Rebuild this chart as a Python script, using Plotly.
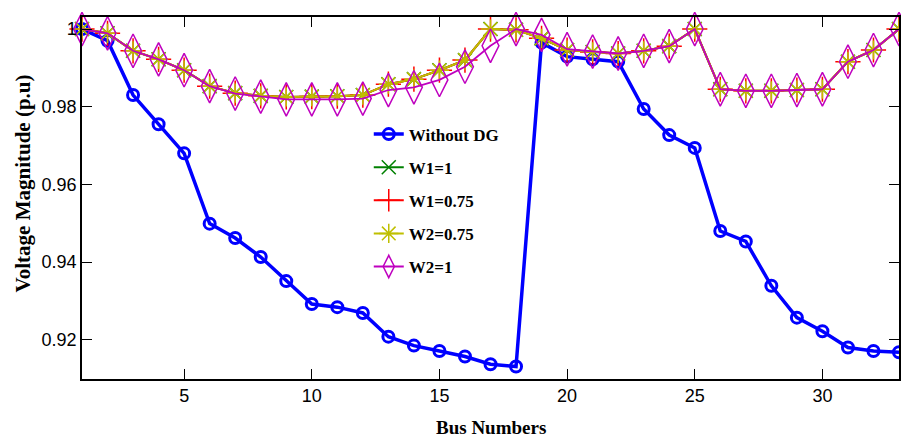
import plotly.graph_objects as go

bus = list(range(1, 34))

without_dg = [1.0, 0.997, 0.983, 0.9755, 0.968, 0.9499, 0.9462, 0.9413, 0.9351, 0.9292,
              0.9284, 0.9269, 0.9208, 0.9185, 0.9171, 0.9157, 0.9137, 0.9131, 0.9965, 0.9929,
              0.9922, 0.9916, 0.9794, 0.9727, 0.9694, 0.9480, 0.9453, 0.9339, 0.9257, 0.9222,
              0.9180, 0.9171, 0.9168]

w1_1 = [1.0, 0.9989, 0.9944, 0.9922, 0.9894, 0.9853, 0.9835, 0.9828, 0.9825, 0.9826,
        0.9827, 0.9830, 0.9858, 0.9871, 0.9894, 0.9920, 1.0, 0.9998, 0.9976, 0.9946,
        0.9941, 0.9937, 0.9944, 0.9956, 1.0, 0.9845, 0.9841, 0.9841, 0.9843, 0.9845,
        0.9916, 0.9946, 1.0]

w1_075 = [1.0, 0.9989, 0.9944, 0.9922, 0.9894, 0.9853, 0.9835, 0.9828, 0.9825, 0.9826,
          0.9827, 0.9830, 0.9858, 0.9871, 0.9894, 0.9920, 1.0, 0.9998, 0.9976, 0.9946,
          0.9941, 0.9937, 0.9944, 0.9956, 1.0, 0.9845, 0.9841, 0.9841, 0.9843, 0.9845,
          0.9916, 0.9946, 1.0]

w2_075 = [1.0, 0.9989, 0.9944, 0.9922, 0.9894, 0.9853, 0.9835, 0.9828, 0.9825, 0.9826,
          0.9827, 0.9830, 0.9858, 0.9871, 0.9894, 0.9920, 1.0, 0.9998, 0.9976, 0.9946,
          0.9941, 0.9937, 0.9944, 0.9956, 1.0, 0.9845, 0.9841, 0.9841, 0.9843, 0.9845,
          0.9916, 0.9946, 1.0]

w2_1 = [1.0, 0.9989, 0.9944, 0.9922, 0.9894, 0.9853, 0.9834, 0.9826, 0.9819, 0.9819,
        0.9819, 0.9821, 0.9843, 0.9850, 0.9869, 0.9903, 0.9957, 1.0, 0.9985, 0.9948,
        0.9942, 0.9937, 0.9944, 0.9956, 1.0, 0.9845, 0.9841, 0.9841, 0.9843, 0.9845,
        0.9916, 0.9946, 1.0]

x_ticks = [5, 10, 15, 20, 25, 30]
y_ticks = [0.92, 0.94, 0.96, 0.98, 1.0]
y_tick_text = ["0.92", "0.94", "0.96", "0.98", "1"]

series = [
    ("Without DG", without_dg, "#0000ff", "circle-open", 11, 3, 3.5),
    ("W1=1", w1_1, "#008000", "x-thin-open", 14, 1.5, 2),
    ("W1=0.75", w1_075, "#ff0000", "cross-thin-open", 18, 1.5, 2),
    ("W2=0.75", w2_075, "#bfbf00", "asterisk-open", 16, 1.5, 2),
    ("W2=1", w2_1, "#bf00bf", "diamond-tall-open", 24, 1.5, 1.8),
]

fig = go.Figure()
for i, (name, vals, color, sym, size, mlw, lw) in enumerate(series):
    fig.add_trace(go.Scatter(
        x=bus, y=vals, name=name, mode="lines+markers",
        line=dict(color=color, width=lw),
        marker=dict(symbol=sym, size=size, color=color, line=dict(color=color, width=mlw)),
        cliponaxis=False, legendgroup=f"g{i}",
    ))

tick_font = dict(family="Liberation Sans, Arial, sans-serif", size=18, color="#000")
serif = "Liberation Serif, Times New Roman, serif"

fig.update_layout(
    width=901, height=438,
    margin=dict(l=82, r=0, t=17, b=59),
    paper_bgcolor="white", plot_bgcolor="white",
    showlegend=True,
    legend=dict(
        x=0.351, y=0.725, xanchor="left", yanchor="top",
        bgcolor="rgba(0,0,0,0)", borderwidth=0,
        font=dict(family=serif, size=17, color="#000", weight="bold"),
        tracegroupgap=8, traceorder="grouped",
    ),
    xaxis=dict(
        range=[1, 33], tickvals=x_ticks, ticks="inside", ticklen=10, tickwidth=1,
        tickcolor="#000", showline=True, linecolor="#000", linewidth=1.5, mirror="ticks",
        showgrid=False, zeroline=False, tickfont=tick_font,
    ),
    yaxis=dict(
        range=[0.9099, 1.0031], tickvals=y_ticks, ticktext=y_tick_text, ticks="inside",
        ticklen=10, tickwidth=1, tickcolor="#000", showline=True, linecolor="#000",
        linewidth=1.5, mirror="ticks", showgrid=False, zeroline=False, tickfont=tick_font,
    ),
    annotations=[
        dict(text="<b>Bus Numbers</b>", xref="paper", yref="paper", x=0.5, y=0,
             yshift=-48, xanchor="center", yanchor="middle", showarrow=False,
             font=dict(family=serif, size=19, color="#000")),
        dict(text="<b>Voltage Magnitude (p.u)</b>", xref="paper", yref="paper", x=0, xshift=-60,
             y=(379 - 183.5) / 362, xanchor="center", yanchor="middle", textangle=-90,
             showarrow=False,
             font=dict(family=serif, size=21, color="#000")),
    ],
)

fig.write_html("out.html")
